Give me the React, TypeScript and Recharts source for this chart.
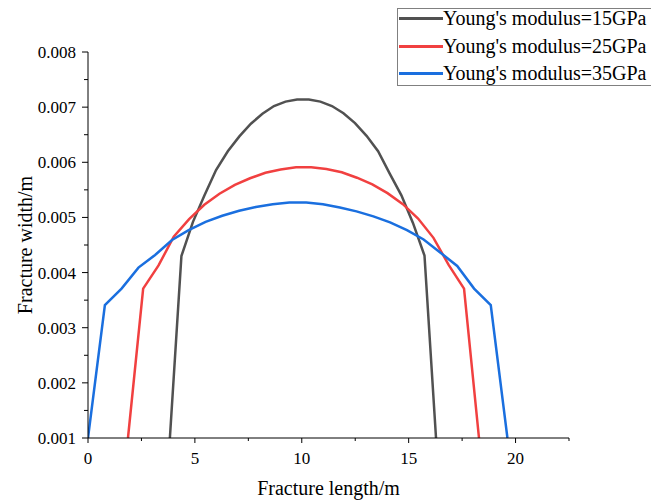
import React from 'react';
import { LineChart, Line, XAxis, YAxis, Legend } from 'recharts';

const seriesNames = ["Young's modulus=15GPa", "Young's modulus=25GPa", "Young's modulus=35GPa"];
const seriesColors = ['#515151', '#F14040', '#1A6FDF'];

// Young's modulus = 15 GPa
const len15 = [3.83, 4.37, 4.91, 5.45, 5.99, 6.54, 7.08, 7.62, 8.16, 8.70, 9.24, 9.78, 10.33, 10.87, 11.41, 11.95, 12.49, 13.03, 13.57, 14.12, 14.66, 15.20, 15.74, 16.28];
const wid15 = [0.001, 0.0043, 0.00492, 0.0054, 0.00586, 0.0062, 0.00647, 0.0067, 0.00688, 0.00702, 0.0071, 0.00714, 0.00714, 0.0071, 0.00702, 0.00689, 0.00671, 0.00648, 0.0062, 0.00579, 0.0054, 0.0049, 0.00431, 0.001];

// Young's modulus = 25 GPa
const len25 = [1.87, 2.58, 3.30, 4.01, 4.73, 5.44, 6.15, 6.87, 7.58, 8.30, 9.01, 9.73, 10.44, 11.15, 11.87, 12.58, 13.30, 14.01, 14.73, 15.44, 16.16, 16.87, 17.59, 18.29];
const wid25 = [0.001, 0.00371, 0.00413, 0.00465, 0.00497, 0.00523, 0.00543, 0.00559, 0.00571, 0.00581, 0.00587, 0.00591, 0.00591, 0.00588, 0.00582, 0.00572, 0.0056, 0.00544, 0.00524, 0.00498, 0.00463, 0.00414, 0.00371, 0.001];

// Young's modulus = 35 GPa
const len35 = [0, 0.79, 1.57, 2.36, 3.14, 3.93, 4.71, 5.50, 6.28, 7.07, 7.85, 8.64, 9.42, 10.21, 10.99, 11.78, 12.56, 13.35, 14.13, 14.92, 15.70, 16.49, 17.27, 18.06, 18.84, 19.62];
const wid35 = [0.001, 0.00341, 0.00371, 0.00409, 0.00432, 0.00459, 0.00477, 0.00492, 0.00503, 0.00512, 0.00519, 0.00524, 0.00527, 0.00527, 0.00524, 0.00518, 0.00511, 0.00502, 0.00491, 0.00477, 0.0046, 0.00436, 0.00412, 0.00371, 0.00341, 0.001];

const xTicks = [0, 2.5, 5, 7.5, 10, 12.5, 15, 17.5, 20, 22.5];
const xLabelTicks = [0, 5, 10, 15, 20];
const yTicks = [0.001, 0.0015, 0.002, 0.0025, 0.003, 0.0035, 0.004, 0.0045, 0.005, 0.0055, 0.006, 0.0065, 0.007, 0.0075, 0.008];
const yLabelTicks = [0.001, 0.002, 0.003, 0.004, 0.005, 0.006, 0.007, 0.008];

const FONT = '"Liberation Serif", "Times New Roman", serif';
const W = 651;
const H = 500;
const PLOT_LEFT = 88;
const PLOT_BOTTOM = 438;

const toPoints = (xs: number[], ys: number[]) => xs.map((x, i) => ({ x, w: ys[i] }));
const seriesData = [toPoints(len15, wid15), toPoints(len25, wid25), toPoints(len35, wid35)];

const isIn = (arr: number[], v: number) => arr.some((a) => Math.abs(a - v) < 1e-9);

const tickTextStyle: React.CSSProperties = { fontFamily: FONT, fontSize: 17, fill: '#000' };

const XTick = (props: any) => {
  const { x, payload } = props;
  const v = payload.value;
  const major = isIn(xLabelTicks, v);
  return (
    <g>
      <line x1={x} x2={x} y1={PLOT_BOTTOM} y2={PLOT_BOTTOM + (major ? 5 : 3)} stroke="#000" strokeWidth={1} />
      {major && (
        <text x={x} y={PLOT_BOTTOM + 26} textAnchor="middle" style={tickTextStyle}>
          {v}
        </text>
      )}
    </g>
  );
};

const YTick = (props: any) => {
  const { y, payload } = props;
  const v = payload.value;
  const major = isIn(yLabelTicks, v);
  return (
    <g>
      <line x1={PLOT_LEFT - (major ? 6 : 4)} x2={PLOT_LEFT} y1={y} y2={y} stroke="#000" strokeWidth={1} />
      {major && (
        <text x={76} y={y} dy="0.35em" textAnchor="end" style={tickTextStyle}>
          {v.toFixed(3)}
        </text>
      )}
    </g>
  );
};

const renderLegend = () => (
  <div
    style={{
      position: 'relative',
      width: 262,
      height: 78,
      border: '1px solid #808080',
      background: '#fff',
      fontFamily: FONT,
      fontSize: 20,
      color: '#000',
      boxSizing: 'border-box',
    }}
  >
    {seriesNames.map((name, i) => (
      <div
        key={name}
        style={{
          position: 'absolute',
          left: 1,
          top: i * 27.5 - 4,
          height: 27,
          lineHeight: '27px',
          display: 'flex',
          alignItems: 'center',
          whiteSpace: 'nowrap',
        }}
      >
        <span style={{ display: 'inline-block', width: 44, height: 3, background: seriesColors[i] }} />
        <span>{name}</span>
      </div>
    ))}
  </div>
);

export default function App() {
  return (
    <div style={{ position: 'absolute', left: 0, top: 0, width: W, height: H, background: '#fff', overflow: 'hidden' }}>
      <LineChart width={W} height={H} margin={{ top: 52, right: 82, bottom: 0, left: 0 }}>
        <XAxis
          dataKey="x"
          type="number"
          domain={[0, 22.5]}
          ticks={xTicks}
          interval={0}
          allowDataOverflow
          tickLine={false}
          tick={XTick}
          height={62}
          axisLine={{ stroke: '#000', strokeWidth: 1 }}
          label={{
            value: 'Fracture length/m',
            position: 'insideBottom',
            offset: 5,
            style: { fontFamily: FONT, fontSize: 20, fill: '#000' },
          }}
        />
        <YAxis
          type="number"
          domain={[0.001, 0.008]}
          ticks={yTicks}
          interval={0}
          allowDataOverflow
          tickLine={false}
          tick={YTick}
          width={PLOT_LEFT}
          axisLine={{ stroke: '#000', strokeWidth: 1 }}
          label={{
            content: () => (
              <text
                x={32}
                y={245}
                transform="rotate(-90 32 245)"
                textAnchor="middle"
                style={{ fontFamily: FONT, fontSize: 20, fill: '#000' }}
              >
                Fracture width/m
              </text>
            ),
          }}
        />
        {seriesData.map((d, i) => (
          <Line
            key={seriesNames[i]}
            data={d}
            dataKey="w"
            name={seriesNames[i]}
            type="linear"
            stroke={seriesColors[i]}
            strokeWidth={2.5}
            dot={false}
            activeDot={false}
            isAnimationActive={false}
          />
        ))}
        <Legend
          layout="vertical"
          align="center"
          verticalAlign="middle"
          content={renderLegend}
          wrapperStyle={{ position: 'absolute', left: 397, top: 8, width: 262, height: 78 }}
        />
      </LineChart>
    </div>
  );
}
